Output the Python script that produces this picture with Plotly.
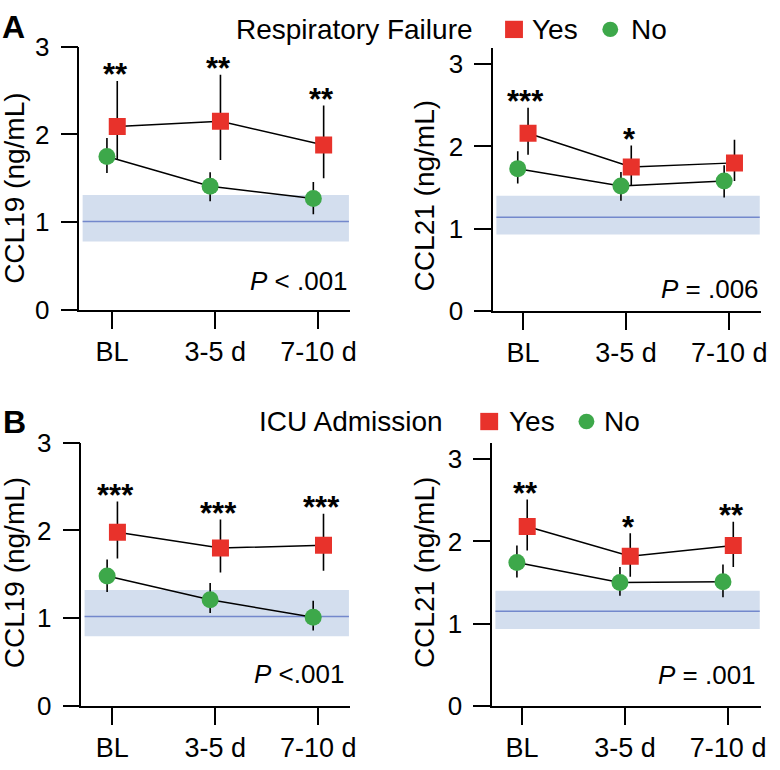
import plotly.graph_objects as go

W, H = 780, 770

categories = ["BL", "3-5 d", "7-10 d"]

# Panel A left: CCL19, respiratory failure
a1_yes_mean = [2.09, 2.15, 1.88]
a1_yes_hi = [2.61, 2.68, 2.33]
a1_yes_lo = [1.72, 1.71, 1.50]
a1_no_mean = [1.75, 1.41, 1.27]
a1_no_hi = [1.96, 1.57, 1.46]
a1_no_lo = [1.56, 1.24, 1.09]
a1_ref = [0.78, 1.01, 1.31]
a1_stars = ["**", "**", "**"]
a1_p = "<i>P</i> < .001"

# Panel A right: CCL21, respiratory failure
a2_yes_mean = [2.16, 1.75, 1.80]
a2_yes_hi = [2.47, 2.01, 2.08]
a2_yes_lo = [1.90, 1.52, 1.58]
a2_no_mean = [1.73, 1.52, 1.58]
a2_no_hi = [1.94, 1.69, 1.77]
a2_no_lo = [1.55, 1.34, 1.38]
a2_ref = [0.93, 1.14, 1.40]
a2_stars = ["***", "*", ""]
a2_p = "<i>P</i> = .006"

# Panel B left: CCL19, ICU admission
b1_yes_mean = [1.98, 1.80, 1.83]
b1_yes_hi = [2.33, 2.125, 2.19]
b1_yes_lo = [1.68, 1.52, 1.54]
b1_no_mean = [1.48, 1.21, 1.01]
b1_no_hi = [1.67, 1.40, 1.20]
b1_no_lo = [1.30, 1.06, 0.86]
b1_ref = [0.795, 1.02, 1.32]
b1_stars = ["***", "***", "***"]
b1_p = "<i>P</i> <.001"

# Panel B right: CCL21, ICU admission
b2_yes_mean = [2.18, 1.82, 1.95]
b2_yes_hi = [2.51, 2.10, 2.24]
b2_yes_lo = [1.89, 1.57, 1.69]
b2_no_mean = [1.745, 1.50, 1.51]
b2_no_hi = [1.95, 1.69, 1.72]
b2_no_lo = [1.56, 1.34, 1.32]
b2_ref = [0.935, 1.15, 1.40]
b2_stars = ["**", "*", "**"]
b2_p = "<i>P</i> = .001"

RED = "#E8322B"
GREEN = "#3DA84A"
BAND = "#D3DEEE"
REFLINE = "#7388CC"
FONT = "Liberation Sans, Arial, sans-serif"


def px_x(v):
    return v / W


def px_y(v):
    return 1 - v / H


panels = [
    dict(key="", title="CCL19 (ng/mL)",
         ym=a1_yes_mean, yh=a1_yes_hi, yl=a1_yes_lo,
         nm=a1_no_mean, nh=a1_no_hi, nl=a1_no_lo, ref=a1_ref, stars=a1_stars, p=a1_p,
         xpx=(80, 353), ypx=(33, 307), yr=[0, 3.0], xr=[-0.317, 2.308],
         title_pos=(15, 180), p_pos=(353, 277)),
    dict(key="2", title="CCL21 (ng/mL)",
         ym=a2_yes_mean, yh=a2_yes_hi, yl=a2_yes_lo,
         nm=a2_no_mean, nh=a2_no_hi, nl=a2_no_lo, ref=a2_ref, stars=a2_stars, p=a2_p,
         xpx=(497, 767), ypx=(34, 308), yr=[0, 3.2], xr=[-0.288, 2.308],
         title_pos=(428, 188), p_pos=(767, 285)),
    dict(key="3", title="CCL19 (ng/mL)",
         ym=b1_yes_mean, yh=b1_yes_hi, yl=b1_yes_lo,
         nm=b1_no_mean, nh=b1_no_hi, nl=b1_no_lo, ref=b1_ref, stars=b1_stars, p=b1_p,
         xpx=(82, 353), ypx=(445, 719), yr=[0, 3.0], xr=[-0.30, 2.31],
         title_pos=(15, 580), p_pos=(349, 686)),
    dict(key="4", title="CCL21 (ng/mL)",
         ym=b2_yes_mean, yh=b2_yes_hi, yl=b2_yes_lo,
         nm=b2_no_mean, nh=b2_no_hi, nl=b2_no_lo, ref=b2_ref, stars=b2_stars, p=b2_p,
         xpx=(496, 767), ypx=(445, 719), yr=[0, 3.2], xr=[-0.29, 2.32],
         title_pos=(428, 580), p_pos=(764, 687)),
]

fig = go.Figure()
annotations = []
shapes = []

OFF = 0.05
for pn in panels:
    k = pn["key"]
    xa = "x" + k
    ya = "y" + k
    xs_no = [i - OFF for i in range(len(categories))]
    xs_yes = [i + OFF for i in range(len(categories))]
    # No (green circles)
    fig.add_trace(go.Scatter(
        x=xs_no, y=pn["nm"], xaxis=xa, yaxis=ya, mode="lines+markers",
        line=dict(color="black", width=1.5),
        marker=dict(symbol="circle", size=17, color=GREEN),
        error_y=dict(type="data", symmetric=False,
                     array=[h - m for h, m in zip(pn["nh"], pn["nm"])],
                     arrayminus=[m - l for m, l in zip(pn["nm"], pn["nl"])],
                     color="black", thickness=1.6, width=0),
        showlegend=False, hoverinfo="skip"))
    # Yes (red squares)
    fig.add_trace(go.Scatter(
        x=xs_yes, y=pn["ym"], xaxis=xa, yaxis=ya, mode="lines+markers",
        line=dict(color="black", width=1.5),
        marker=dict(symbol="square", size=17, color=RED),
        error_y=dict(type="data", symmetric=False,
                     array=[h - m for h, m in zip(pn["yh"], pn["ym"])],
                     arrayminus=[m - l for m, l in zip(pn["ym"], pn["yl"])],
                     color="black", thickness=1.6, width=0),
        showlegend=False, hoverinfo="skip"))

    dom_x = [px_x(pn["xpx"][0]), px_x(pn["xpx"][1])]
    dom_y = [px_y(pn["ypx"][1]), px_y(pn["ypx"][0])]
    axis_common = dict(showline=True, linecolor="black", linewidth=1.6,
                       ticks="outside", ticklen=17, tickwidth=1.6, tickcolor="black",
                       showgrid=False, zeroline=False, fixedrange=True)
    fig.update_layout(**{
        ("xaxis" + k): dict(domain=dom_x, anchor=ya, range=pn["xr"],
                            tickvals=list(range(len(categories))), ticktext=categories,
                            tickfont=dict(size=27, color="black", family=FONT),
                            **axis_common),
        ("yaxis" + k): dict(domain=dom_y, anchor=xa, range=pn["yr"],
                            tickvals=[0, 1, 2, 3], ticktext=["0", "1", "2", "3"],
                            tickfont=dict(size=26, color="black", family=FONT),
                            ticklabelstandoff=6,
                            **axis_common),
    })

    # reference band and line
    shapes.append(dict(type="rect", xref=xa + " domain", yref=ya, x0=0.012, x1=0.995,
                       y0=pn["ref"][0], y1=pn["ref"][2], fillcolor=BAND,
                       line=dict(width=0), layer="below"))
    shapes.append(dict(type="line", xref=xa + " domain", yref=ya, x0=0.012, x1=0.995,
                       y0=pn["ref"][1], y1=pn["ref"][1],
                       line=dict(color=REFLINE, width=1.5), layer="below"))

    # significance stars
    for i, s in enumerate(pn["stars"]):
        if s:
            annotations.append(dict(x=i + 0.03, y=pn["yh"][i], xref=xa, yref=ya,
                                    text="<b>%s</b>" % s, showarrow=False, yanchor="middle",
                                    yshift=6,
                                    font=dict(size=31, color="black", family=FONT)))
    # y title
    annotations.append(dict(x=px_x(pn["title_pos"][0]), y=px_y(pn["title_pos"][1]),
                            xref="paper", yref="paper", text=pn["title"], textangle=-90,
                            showarrow=False, xanchor="center", yanchor="middle",
                            font=dict(size=28, color="black", family=FONT)))
    # P value
    annotations.append(dict(x=px_x(pn["p_pos"][0]), y=px_y(pn["p_pos"][1]),
                            xref="paper", yref="paper", text=pn["p"],
                            showarrow=False, xanchor="right", yanchor="middle",
                            font=dict(size=26, color="black", family=FONT)))

# header rows with legend keys
headers = [
    dict(label="A", label_pos=(0, 13), title="Respiratory Failure", title_x=236, yc=15,
         sq=(518, 15), yes_x=534, circ=(615, 15), no_x=634),
    dict(label="B", label_pos=(1, 423), title="ICU Admission", title_x=259, yc=423,
         sq=(493, 423), yes_x=511, circ=(591, 423), no_x=607),
]
for h in headers:
    annotations.append(dict(x=px_x(h["label_pos"][0]), y=px_y(h["label_pos"][1]),
                            xref="paper", yref="paper", text="<b>%s</b>" % h["label"],
                            showarrow=False, xanchor="left", yanchor="middle",
                            font=dict(size=32, color="black", family=FONT)))
    for txt, xx in [(h["title"], h["title_x"]), ("Yes", h["yes_x"]), ("No", h["no_x"])]:
        annotations.append(dict(x=px_x(xx), y=px_y(h["yc"]), xref="paper", yref="paper",
                                text=txt, showarrow=False, xanchor="left", yanchor="middle",
                                font=dict(size=28, color="black", family=FONT)))
    sx, sy = h["sq"]
    shapes.append(dict(type="rect", xref="paper", yref="paper",
                       x0=px_x(sx - 9), x1=px_x(sx + 9), y0=px_y(sy + 9), y1=px_y(sy - 9),
                       fillcolor=RED, line=dict(width=0)))
    cx, cy = h["circ"]
    shapes.append(dict(type="circle", xref="paper", yref="paper",
                       x0=px_x(cx - 8), x1=px_x(cx + 8), y0=px_y(cy + 8), y1=px_y(cy - 8),
                       fillcolor=GREEN, line=dict(width=0)))

fig.update_layout(width=W, height=H, margin=dict(l=0, r=0, t=0, b=0),
                  paper_bgcolor="white", plot_bgcolor="white",
                  font=dict(family=FONT, color="black"),
                  annotations=annotations, shapes=shapes, showlegend=False)

fig.write_html("out.html", config={"displayModeBar": False},
               post_script="document.body.style.margin='0px';")
